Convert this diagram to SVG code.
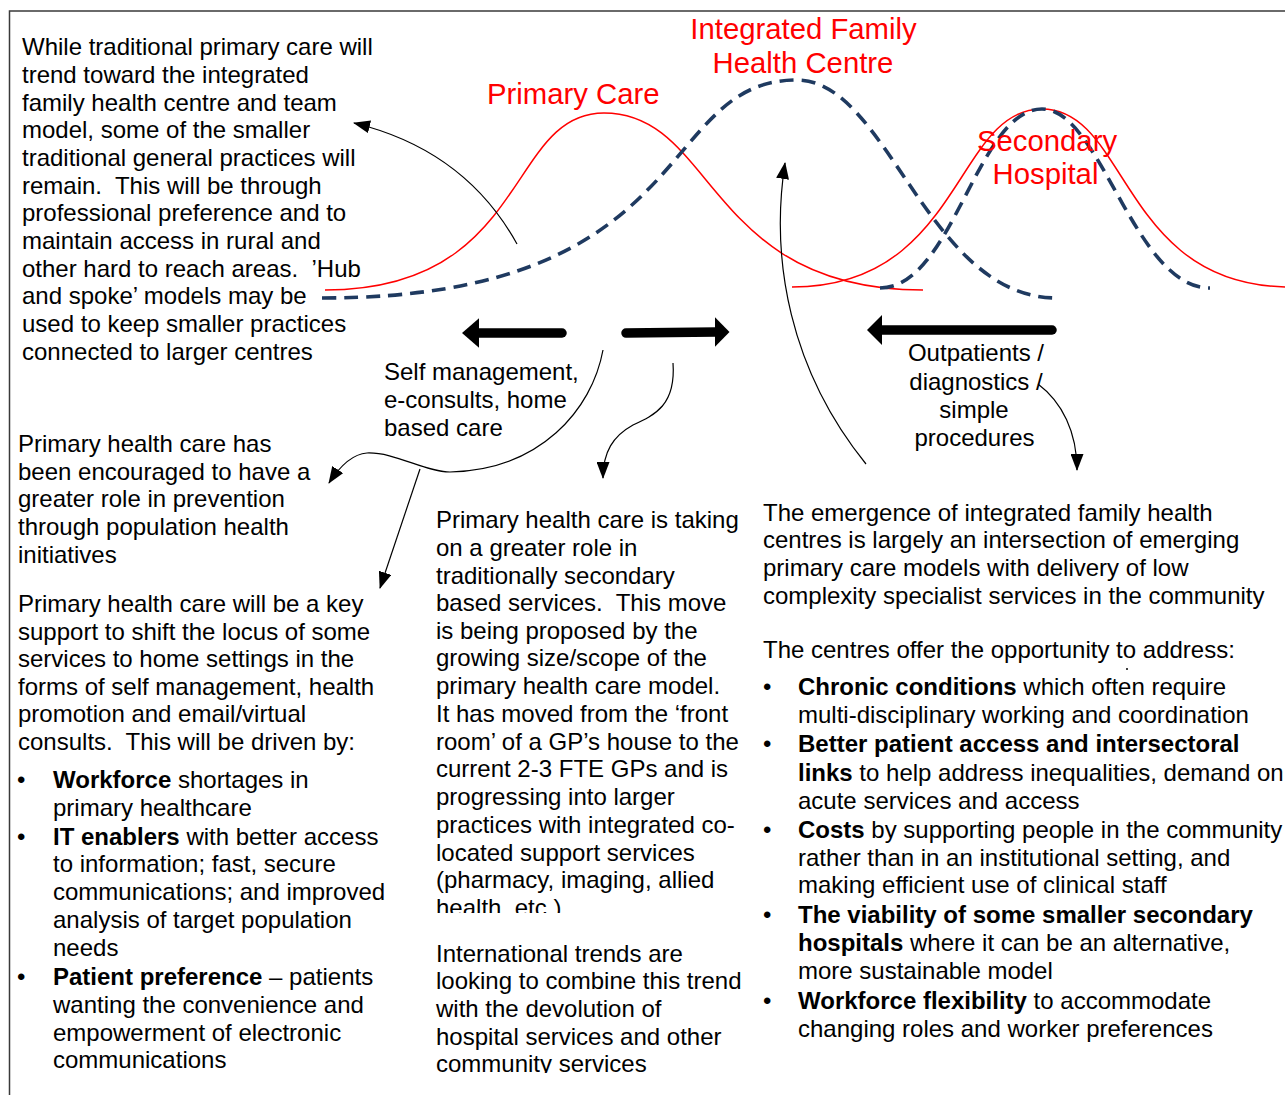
<svg xmlns="http://www.w3.org/2000/svg" width="1285" height="1095" viewBox="0 0 1285 1095">
<style>
.t{font-family:"Liberation Sans",Arial,sans-serif;font-size:24px;fill:#000}
.b{font-weight:bold}
.red{font-family:"Liberation Sans",Arial,sans-serif;font-size:29.3px;fill:#FF0000}
.rc{fill:none;stroke:#FF0000;stroke-width:1.5}
.bc{fill:none;stroke:#1F3A60;stroke-width:3.6;stroke-dasharray:14 8}
.thin{fill:none;stroke:#000;stroke-width:1.2;marker-end:url(#ah)}
.thick{stroke:#000;stroke-width:9.5;stroke-linecap:round}
</style>
<defs>
<marker id="ah" markerUnits="userSpaceOnUse" markerWidth="17" markerHeight="13" viewBox="0 0 17 13" refX="16" refY="6.5" orient="auto">
<path d="M0,0 L17,6.5 L0,13 z" fill="#000"/>
</marker>
<clipPath id="clipMid1"><rect x="420" y="500" width="340" height="413"/></clipPath>
<clipPath id="clipMid2"><rect x="420" y="930" width="340" height="143"/></clipPath>
</defs>
<rect x="0" y="0" width="1285" height="1095" fill="#fff"/>
<g id="frame" fill="none" stroke="#3a3a3a" stroke-width="1.5">
<path d="M9.5,1095 L9.5,11 L1285,11"/>
</g>

<g id="curves">
<path id="curve-primary" class="rc" d="M325,290 C530,290 506,113 604,113 C716,113 706,290 923,290"/>
<path id="curve-secondary" class="rc" d="M792,287 C962,287 954.5,109 1042,109 C1129,109 1121,287 1290,287"/>
<path id="curve-ifhc" class="bc" d="M322,298 C702,298 654.5,80 797,80 C888,80 927,298 1057,298"/>
<path id="curve-sec-dash" class="bc" d="M880,288 C953,288 977,109 1042,109 C1101,109 1134,288 1210,288"/>
</g>

<g id="label-ifhc"><text class="red" x="803.5" y="39" text-anchor="middle">Integrated Family</text><text class="red" x="803" y="73" text-anchor="middle">Health Centre</text></g>
<g id="label-primary"><text class="red" x="487" y="103.5">Primary Care</text></g>
<g id="label-secondary"><text class="red" x="1047" y="151" text-anchor="middle">Secondary</text><text class="red" x="1045.5" y="184" text-anchor="middle">Hospital</text></g>

<g id="connectors">
<path class="thin" d="M517,244 Q465,150 354,123"/>
<path class="thin" d="M866,464 C790,370 770,260 785,163"/>
<path class="thin" d="M603,350 C592,410 540,470 450,472 C425,472 395,452 367,453 C352,454 340,466 329,483"/>
<path class="thin" d="M420,469 L380,588"/>
<path class="thin" d="M673,363 C676,405 655,415 633,425 C613,436 603,452 603,478"/>
<path class="thin" d="M1038,384 C1062,402 1077,432 1077,470"/>
<line class="thick" x1="562" y1="333" x2="477" y2="333"/>
<polygon points="462,333 479,318.3 479,347.7" fill="#000"/>
<line class="thick" x1="626" y1="333" x2="716" y2="332"/>
<polygon points="729.5,332 715,317.3 715,346.7" fill="#000"/>
<line class="thick" x1="1052" y1="330" x2="881" y2="330"/>
<polygon points="867,330 882,315 882,345" fill="#000"/>
</g>

<g id="note-topleft">
<text class="t" x="22" y="55">While traditional primary care will</text>
<text class="t" x="22" y="83">trend toward the integrated</text>
<text class="t" x="22" y="111">family health centre and team</text>
<text class="t" x="22" y="138">model, some of the smaller</text>
<text class="t" x="22" y="166">traditional general practices will</text>
<text class="t" x="22" y="194" xml:space="preserve">remain.  This will be through</text>
<text class="t" x="22" y="221">professional preference and to</text>
<text class="t" x="22" y="249">maintain access in rural and</text>
<text class="t" x="22" y="277" xml:space="preserve">other hard to reach areas.  ’Hub</text>
<text class="t" x="22" y="304">and spoke’ models may be</text>
<text class="t" x="22" y="332">used to keep smaller practices</text>
<text class="t" x="22" y="360">connected to larger centres</text>
</g>

<g id="label-self">
<text class="t" x="384" y="380">Self management,</text>
<text class="t" x="384" y="408">e-consults, home</text>
<text class="t" x="384" y="436">based care</text>
</g>

<g id="label-outpatients">
<text class="t" x="976" y="361" text-anchor="middle">Outpatients /</text>
<text class="t" x="976" y="390" text-anchor="middle">diagnostics /</text>
<text class="t" x="974" y="418" text-anchor="middle">simple</text>
<text class="t" x="974.5" y="446" text-anchor="middle">procedures</text>
</g>

<g id="note-prevention">
<text class="t" x="18" y="452">Primary health care has</text>
<text class="t" x="18" y="480">been encouraged to have a</text>
<text class="t" x="18" y="507">greater role in prevention</text>
<text class="t" x="18" y="535">through population health</text>
<text class="t" x="18" y="563">initiatives</text>
</g>

<g id="note-home">
<text class="t" x="18" y="612">Primary health care will be a key</text>
<text class="t" x="18" y="640">support to shift the locus of some</text>
<text class="t" x="18" y="667">services to home settings in the</text>
<text class="t" x="18" y="695">forms of self management, health</text>
<text class="t" x="18" y="722">promotion and email/virtual</text>
<text class="t" x="18" y="750" xml:space="preserve">consults.  This will be driven by:</text>
<text class="t" x="17" y="788">•</text>
<text class="t" x="53" y="788"><tspan class="b">Workforce</tspan> shortages in</text>
<text class="t" x="53" y="816">primary healthcare</text>
<text class="t" x="17" y="845">•</text>
<text class="t" x="53" y="845"><tspan class="b">IT enablers</tspan> with better access</text>
<text class="t" x="53" y="872">to information; fast, secure</text>
<text class="t" x="53" y="900">communications; and improved</text>
<text class="t" x="53" y="928">analysis of target population</text>
<text class="t" x="53" y="956">needs</text>
<text class="t" x="17" y="985">•</text>
<text class="t" x="53" y="985"><tspan class="b">Patient preference</tspan> – patients</text>
<text class="t" x="53" y="1013">wanting the convenience and</text>
<text class="t" x="53" y="1041">empowerment of electronic</text>
<text class="t" x="53" y="1068">communications</text>
</g>

<g id="note-middle">
<g clip-path="url(#clipMid1)">
<text class="t" x="436" y="528">Primary health care is taking</text>
<text class="t" x="436" y="556">on a greater role in</text>
<text class="t" x="436" y="584">traditionally secondary</text>
<text class="t" x="436" y="611" xml:space="preserve">based services.  This move</text>
<text class="t" x="436" y="639">is being proposed by the</text>
<text class="t" x="436" y="666">growing size/scope of the</text>
<text class="t" x="436" y="694">primary health care model.</text>
<text class="t" x="436" y="722">It has moved from the ‘front</text>
<text class="t" x="436" y="750">room’ of a GP’s house to the</text>
<text class="t" x="436" y="777">current 2-3 FTE GPs and is</text>
<text class="t" x="436" y="805">progressing into larger</text>
<text class="t" x="436" y="833">practices with integrated co-</text>
<text class="t" x="436" y="861">located support services</text>
<text class="t" x="436" y="888">(pharmacy, imaging, allied</text>
<text class="t" x="436" y="916">health, etc.)</text>
</g>
<g clip-path="url(#clipMid2)">
<text class="t" x="436" y="962">International trends are</text>
<text class="t" x="436" y="989">looking to combine this trend</text>
<text class="t" x="436" y="1017">with the devolution of</text>
<text class="t" x="436" y="1045">hospital services and other</text>
<text class="t" x="436" y="1072">community services</text>
</g>
</g>

<g id="note-right">
<text class="t" x="763" y="521">The emergence of integrated family health</text>
<text class="t" x="763" y="548">centres is largely an intersection of emerging</text>
<text class="t" x="763" y="576">primary care models with delivery of low</text>
<text class="t" x="763" y="604">complexity specialist services in the community</text>
<text class="t" x="763" y="658">The centres offer the opportunity to address:</text>
<circle cx="1127" cy="669" r="1" fill="#000"/>
<text class="t" x="763" y="695">•</text>
<text class="t" x="798" y="695"><tspan class="b">Chronic conditions</tspan> which often require</text>
<text class="t" x="798" y="723">multi-disciplinary working and coordination</text>
<text class="t" x="763" y="752">•</text>
<text class="t b" x="798" y="752">Better patient access and intersectoral</text>
<text class="t" x="798" y="781"><tspan class="b">links</tspan> to help address inequalities, demand on</text>
<text class="t" x="798" y="809">acute services and access</text>
<text class="t" x="763" y="838">•</text>
<text class="t" x="798" y="838"><tspan class="b">Costs</tspan> by supporting people in the community</text>
<text class="t" x="798" y="866">rather than in an institutional setting, and</text>
<text class="t" x="798" y="893">making efficient use of clinical staff</text>
<text class="t" x="763" y="923">•</text>
<text class="t b" x="798" y="923">The viability of some smaller secondary</text>
<text class="t" x="798" y="951"><tspan class="b">hospitals</tspan> where it can be an alternative,</text>
<text class="t" x="798" y="979">more sustainable model</text>
<text class="t" x="763" y="1009">•</text>
<text class="t" x="798" y="1009"><tspan class="b">Workforce flexibility</tspan> to accommodate</text>
<text class="t" x="798" y="1037">changing roles and worker preferences</text>
</g>
</svg>
